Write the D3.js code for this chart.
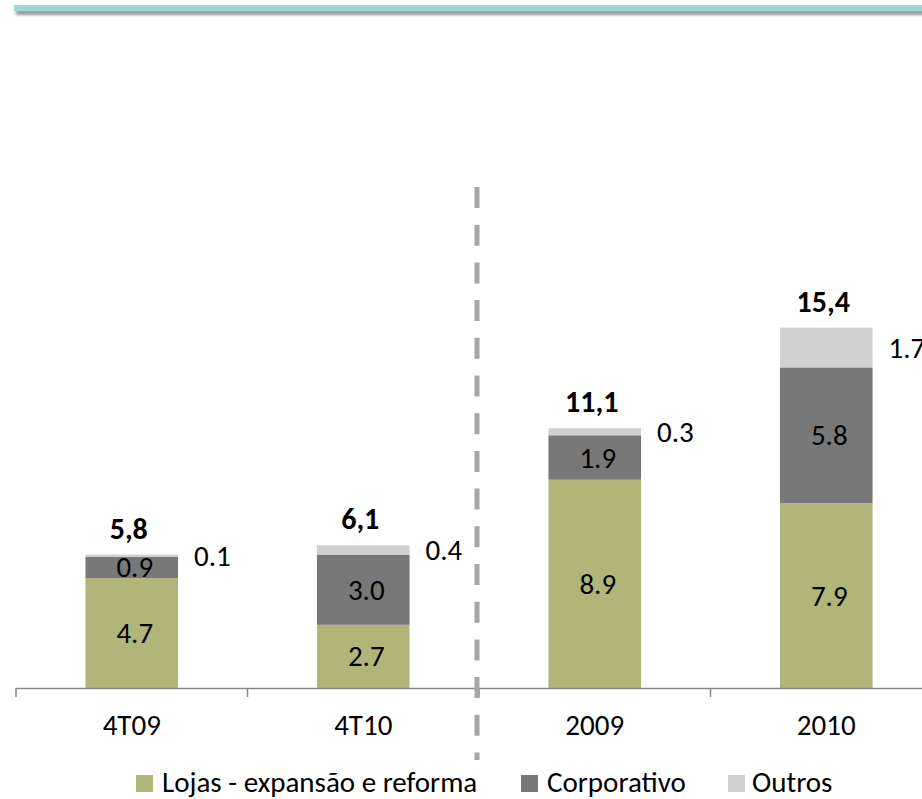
<!DOCTYPE html>
<html>
<head>
<meta charset="utf-8">
<script src="https://cdn.jsdelivr.net/npm/d3@7"></script>
<style>
  html, body { margin: 0; padding: 0; background: #fff; }
  svg { display: block; }
  text { font-family: Carlito, Calibri, Lato, sans-serif; fill: #000; }
</style>
</head>
<body>
<svg id="chart" width="922" height="799"></svg>
<script>
// ---- data ----
const categories = ["4T09", "4T10", "2009", "2010"];
const seriesNames = ["Lojas - expansão e reforma", "Corporativo", "Outros"];
const lojas = [4.7, 2.7, 8.9, 7.9];
const corporativo = [0.9, 3.0, 1.9, 5.8];
const outros = [0.1, 0.4, 0.3, 1.7];
const totalLabels = ["5,8", "6,1", "11,1", "15,4"];
const colors = ["#b2b57a", "#787878", "#d0d0d0"];

// ---- layout ----
const svg = d3.select("#chart");
const W = 922, H = 799;
const baseY = 688;
const pxPerUnit = 23.4;
const FS = 29;

const x = d3.scaleBand().domain(categories).range([16, 942])
  .paddingInner(0.6).paddingOuter(0.3);
const y = d3.scaleLinear().domain([0, 18]).range([baseY, baseY - 18 * pxPerUnit]);

// filters
const defs = svg.append("defs");
const blur = defs.append("filter").attr("id", "blur").attr("filterUnits", "userSpaceOnUse")
  .attr("x", 0).attr("y", 0).attr("width", W).attr("height", 30);
blur.append("feGaussianBlur").attr("stdDeviation", 1.6);
const soft = defs.append("filter").attr("id", "soft").attr("filterUnits", "userSpaceOnUse")
  .attr("x", 440).attr("y", 170).attr("width", 80).attr("height", 620);
soft.append("feGaussianBlur").attr("stdDeviation", 0.6);

// top banner with shadow
svg.append("rect").attr("x", 16).attr("y", 9.5).attr("width", W).attr("height", 5.5)
  .attr("fill", "#9a9a9a").attr("filter", "url(#blur)");
svg.append("rect").attr("x", 14).attr("y", 5).attr("width", W).attr("height", 6)
  .attr("fill", "#9dd8db");

// stacked data
const table = categories.map((c, i) => ({
  cat: c, lojas: lojas[i], corporativo: corporativo[i], outros: outros[i]
}));
const keys = ["lojas", "corporativo", "outros"];
const stack = d3.stack().keys(keys)(table);

const g = svg.append("g");
stack.forEach((layer, li) => {
  g.selectAll(null).data(layer).enter().append("rect")
    .attr("x", d => x(d.data.cat))
    .attr("width", x.bandwidth())
    .attr("y", d => y(d[1]))
    .attr("height", d => y(d[0]) - y(d[1]))
    .attr("fill", colors[li]);
});

// in-bar labels (lojas, corporativo)
[0, 1].forEach(li => {
  g.selectAll(null).data(stack[li]).enter().append("text")
    .attr("x", d => x(d.data.cat) + x.bandwidth() / 2 + 3)
    .attr("y", d => (y(d[0]) + y(d[1])) / 2)
    .attr("text-anchor", "middle")
    .attr("dominant-baseline", "central")
    .attr("font-size", FS)
    .text(d => d.data[keys[li]].toFixed(1));
});

// outros labels to the right
g.selectAll(null).data(stack[2]).enter().append("text")
  .attr("x", d => x(d.data.cat) + x.bandwidth() + 16)
  .attr("y", d => (y(d[0]) + y(d[1])) / 2)
  .attr("text-anchor", "start")
  .attr("dominant-baseline", "central")
  .attr("font-size", FS)
  .text(d => d.data.outros.toFixed(1));

// totals
g.selectAll(null).data(stack[2]).enter().append("text")
  .attr("x", d => x(d.data.cat) + x.bandwidth() / 2 - 3)
  .attr("y", d => y(d[1]) - 16)
  .attr("text-anchor", "middle")
  .attr("font-size", 30)
  .attr("font-weight", "bold")
  .text((d, i) => totalLabels[i]);

// axis line + ticks at category boundaries
const step = x.step();
const x0 = x.range()[0];
svg.append("line").attr("x1", x0).attr("x2", W).attr("y1", baseY + 0.5).attr("y2", baseY + 0.5)
  .attr("stroke", "#868686").attr("stroke-width", 1.5);
svg.selectAll(null).data(d3.range(categories.length + 1)).enter().append("line")
  .attr("x1", i => x0 + i * step).attr("x2", i => x0 + i * step)
  .attr("y1", baseY).attr("y2", baseY + 9)
  .attr("stroke", "#868686").attr("stroke-width", 1.5);

// category labels via axis
const axis = svg.append("g").attr("transform", `translate(0,${baseY})`)
  .call(d3.axisBottom(x).tickSize(0).tickPadding(0));
axis.select(".domain").remove();
axis.selectAll("text")
  .attr("y", 47)
  .attr("dy", null)
  .attr("font-size", FS)
  .attr("font-family", "Carlito, Calibri, Lato, sans-serif")
  .attr("fill", "#000");

// dashed separator
const sepX = x0 + 2 * step - 2;
svg.append("line").attr("x1", sepX).attr("x2", sepX).attr("y1", 187).attr("y2", 760)
  .attr("stroke", "#a6a6a6").attr("stroke-width", 5)
  .attr("stroke-dasharray", "21 16.7").attr("filter", "url(#soft)");

// legend
const legendItems = [
  { sq: 136, tx: 162 },
  { sq: 521, tx: 547 },
  { sq: 728, tx: 752 }
];
const lg = svg.append("g");
seriesNames.forEach((name, i) => {
  lg.append("rect").attr("x", legendItems[i].sq).attr("y", 775)
    .attr("width", 17).attr("height", 17).attr("fill", colors[i]);
  lg.append("text").attr("x", legendItems[i].tx).attr("y", 792)
    .attr("font-size", FS).text(name);
});
</script>
</body>
</html>
